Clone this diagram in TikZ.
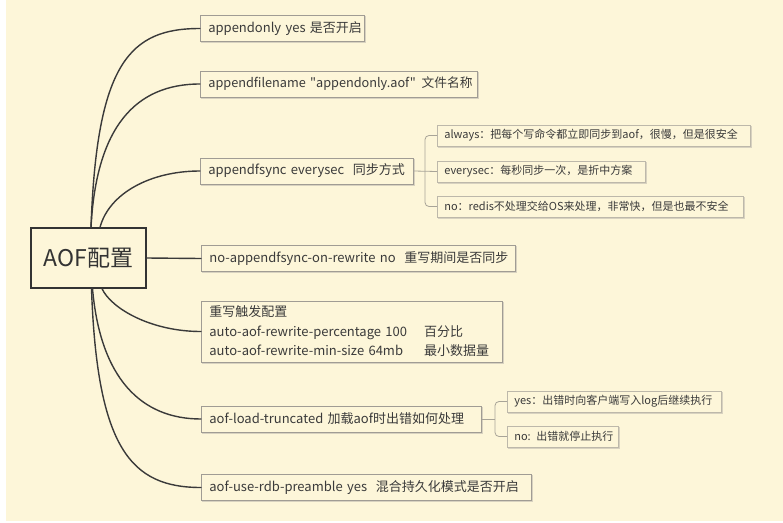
\documentclass[tikz,border=0pt]{standalone}
\usepackage{fontspec}
\setmainfont{Noto Sans CJK SC}[Ligatures=TeXOff]
\definecolor{bg}{HTML}{FDF6D9}
\definecolor{txt}{HTML}{3A3A3A}
\definecolor{boxline}{HTML}{A09C94}
\definecolor{subline}{HTML}{BDB8AA}
\definecolor{shad}{HTML}{D8D2C0}
\definecolor{lnk}{HTML}{3A3A3A}
\definecolor{brkc}{HTML}{A8A498}
\definecolor{rootline}{HTML}{333333}
\begin{document}
\begin{tikzpicture}[x=1pt,y=1pt,
  box/.style={draw=boxline, line width=0.7pt, fill=bg, text=txt, anchor=west,
    inner xsep=8pt, inner ysep=0pt, minimum height=26pt, align=left,
    font=\fontsize{13}{19.5}\selectfont,
    preaction={draw=shad, line width=1.2pt, transform canvas={shift={(1.2pt,-1.2pt)}}}},
  sub/.style={box, draw=subline, minimum height=21pt, inner xsep=7pt,
    font=\fontsize{11}{13}\selectfont},
  conn/.style={draw=lnk, line width=1.4pt, line cap=round},
  brk/.style={draw=brkc, line width=0.8pt, rounded corners=4pt},
]
\useasboundingbox (0,0) rectangle (783,-522);
\fill[white] (0,0) rectangle (783,-522);
\fill[bg] (6,0) rectangle (783,-521);

% root
\node[draw=rootline, line width=1.3pt, minimum width=115pt, minimum height=60pt,
  inner sep=0pt, text=rootline, font=\fontsize{23}{23}\selectfont] (root) at (88.5,-258) {AOF配置};

% main boxes
\node[box, text width=148pt] (b1) at (200,-28.5) {\mbox{appendonly yes 是否开启}};
\node[box, text width=261pt, font=\fontsize{12.7}{19.5}\selectfont] (b2) at (200,-84) {\mbox{appendfilename "appendonly.aof" \hspace{1.5pt}文件名称}};
\node[box, text width=197pt] (b3) at (200,-171) {\mbox{appendfsync everysec\ \ 同步方式}};
\node[box, text width=298pt] (b4) at (201,-258.5) {\mbox{no-appendfsync-on-rewrite no\ \ 重写期间是否同步}};
\node[box, text width=285pt, minimum height=61pt] (b5) at (201,-331.5)
  {\mbox{重写触发配置}\\\mbox{auto-aof-rewrite-percentage 100\hspace{17pt}百分比}\\\mbox{auto-aof-rewrite-min-size 64mb\hspace{21pt}最小数据量}};
\node[box, text width=264pt] (b6) at (201,-419) {\mbox{aof-load-truncated 加载aof时出错如何处理}};
\node[box, text width=314pt] (b7) at (201,-487.5) {\mbox{aof-use-rdb-preamble yes\ \ 混合持久化模式是否开启}};

% sub boxes
\node[sub, text width=299pt] (s1) at (437,-135.5) {\mbox{always：把每个写命令都立即同步到aof，很慢，但是很安全}};
\node[sub, text width=194pt] (s2) at (437,-171.5) {\mbox{everysec：每秒同步一次，是折中方案}};
\node[sub, text width=292pt] (s3) at (437,-206.5) {\mbox{no：redis不处理交给OS来处理，非常快，但是也最不安全}};
\node[sub, text width=200pt] (y1) at (507,-401.5) {\mbox{yes：出错时向客户端写入log后继续执行}};
\node[sub, text width=97pt] (n1) at (507,-436.5) {\mbox{no: 出错就停止执行}};

% connectors
\draw[conn] ([xshift=2.5pt]root.north) to[out=88, in=180, out distance=165pt, in distance=70pt] (b1.west);
\draw[conn] ([xshift=2.5pt]root.north) to[out=87, in=180, out distance=100pt, in distance=65pt] (b2.west);
\draw[conn] ([xshift=11.5pt]root.north) to[out=75, in=180, out distance=35pt, in distance=50pt] (b3.west);
\draw[conn] (root.east) -- (b4.west);
\draw[conn] ([xshift=13.5pt]root.south) to[out=-65, in=180, out distance=22pt, in distance=50pt] (b5.west);
\draw[conn] ([xshift=4pt]root.south) to[out=-85, in=180, out distance=90pt, in distance=60pt] (b6.west);
\draw[conn] ([xshift=3pt]root.south) to[out=-88, in=180, out distance=160pt, in distance=70pt] (b7.west);

% brackets
\coordinate (j1) at (425,-171);
\draw[brk] (b3.east) -- (s2.west);
\draw[brk] (s1.west) -| (j1) |- (s3.west);
\coordinate (j2) at (495,-419);
\draw[brk] (b6.east) -- (j2);
\draw[brk] (y1.west) -| (j2) |- (n1.west);
\end{tikzpicture}
\end{document}
